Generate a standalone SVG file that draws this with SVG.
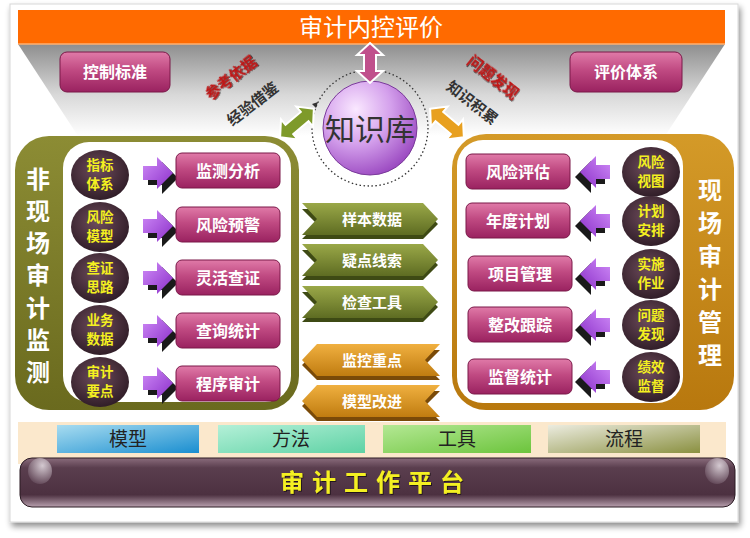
<svg xmlns="http://www.w3.org/2000/svg" width="750" height="538" viewBox="0 0 750 538">
<defs>
<linearGradient id="gTrap" x1="0" y1="0" x2="0" y2="1"><stop offset="0" stop-color="#8e8e8e"/><stop offset="0.55" stop-color="#d8d8d8"/><stop offset="1" stop-color="#ffffff"/></linearGradient>
<linearGradient id="gPink" x1="0" y1="0" x2="0" y2="1"><stop offset="0" stop-color="#e07aa8"/><stop offset="0.45" stop-color="#c04a82"/><stop offset="1" stop-color="#9a2260"/></linearGradient>
<radialGradient id="gDark" cx="0.45" cy="0.4" r="0.65"><stop offset="0" stop-color="#6e4c5c"/><stop offset="1" stop-color="#2c1a24"/></radialGradient>
<linearGradient id="gOlive" x1="0" y1="0" x2="0" y2="1"><stop offset="0" stop-color="#8c8c34"/><stop offset="1" stop-color="#6a6a1e"/></linearGradient>
<linearGradient id="gGold" x1="0" y1="0" x2="0" y2="1"><stop offset="0" stop-color="#d49a28"/><stop offset="1" stop-color="#b8780e"/></linearGradient>
<linearGradient id="gPurp" x1="0" y1="0" x2="1" y2="1"><stop offset="0" stop-color="#d08cf8"/><stop offset="1" stop-color="#8a2ec8"/></linearGradient>
<linearGradient id="gGreen" x1="0" y1="0" x2="0" y2="1"><stop offset="0" stop-color="#9aa848"/><stop offset="1" stop-color="#5e6c22"/></linearGradient>
<linearGradient id="gOrange" x1="0" y1="0" x2="0" y2="1"><stop offset="0" stop-color="#f0b040"/><stop offset="1" stop-color="#c07c10"/></linearGradient>
<radialGradient id="gSphere" cx="0.35" cy="0.3" r="0.75"><stop offset="0" stop-color="#fae8ff"/><stop offset="0.5" stop-color="#d4a0ec"/><stop offset="1" stop-color="#9a48c0"/></radialGradient>
<linearGradient id="gBlue" x1="0" y1="0" x2="1" y2="1"><stop offset="0" stop-color="#a8dcf0"/><stop offset="1" stop-color="#1a8ed0"/></linearGradient>
<linearGradient id="gTeal" x1="0" y1="0" x2="1" y2="1"><stop offset="0" stop-color="#b4f0d8"/><stop offset="1" stop-color="#5ed2a4"/></linearGradient>
<linearGradient id="gLime" x1="0" y1="0" x2="1" y2="1"><stop offset="0" stop-color="#b4e894"/><stop offset="1" stop-color="#6cc43c"/></linearGradient>
<linearGradient id="gFlow" x1="0" y1="0" x2="1" y2="1"><stop offset="0" stop-color="#ecece0"/><stop offset="1" stop-color="#8a9040"/></linearGradient>
<linearGradient id="gPlat" x1="0" y1="0" x2="0" y2="1"><stop offset="0" stop-color="#8a6c7c"/><stop offset="0.2" stop-color="#5a3e4e"/><stop offset="0.75" stop-color="#4c3040"/><stop offset="1" stop-color="#b8a0ae"/></linearGradient>
<radialGradient id="gBubble" cx="0.6" cy="0.3" r="0.7"><stop offset="0" stop-color="#e8e0e6"/><stop offset="1" stop-color="#6a5060"/></radialGradient>
<filter id="shadow" x="-5%" y="-5%" width="110%" height="115%"><feGaussianBlur in="SourceAlpha" stdDeviation="3"/><feOffset dx="2" dy="4"/><feComponentTransfer><feFuncA type="linear" slope="0.45"/></feComponentTransfer><feMerge><feMergeNode/><feMergeNode in="SourceGraphic"/></feMerge></filter>
<filter id="ts" x="-10%" y="-10%" width="130%" height="130%"><feDropShadow dx="1" dy="1" stdDeviation="0.6" flood-color="#000" flood-opacity="0.6"/></filter>
<g id="arrR"><path d="M0,-7 H14 V-16 L30,0 L14,16 V7 H0 Z" fill="#1a1a1a" transform="translate(5,5)"/><path d="M0,-7 H14 V-16 L30,0 L14,16 V7 H0 Z" fill="url(#gPurp)"/></g>
</defs>
<style>
text{font-family:"Noto Sans CJK SC","Noto Sans",sans-serif;text-anchor:middle}
.btn{fill:url(#gPink);stroke:#7a1848;stroke-width:1}
.bt{fill:#fff;font-size:16px;font-weight:bold}
.dk{fill:url(#gDark)}
.yt{fill:#f4f020;font-size:13.5px;font-weight:bold}
.vt{fill:#fff;font-size:24px;font-weight:bold}
.ct{fill:#fff;font-size:15px;font-weight:bold}
.bx{font-size:19px;fill:#222}
</style>

<!-- main panel -->
<rect x="10" y="4" width="728" height="518" fill="#fff" stroke="#d8d8d8" filter="url(#shadow)"/>

<!-- top band -->
<g id="top">
<path d="M18,44 H725 L665,136 H78 Z" fill="url(#gTrap)"/>
<rect x="18" y="10" width="707" height="34" fill="#ff6a00"/>
<line x1="18" y1="44" x2="725" y2="44" stroke="#ffb070" stroke-width="1.5"/>
<text x="371" y="36" fill="#fff" font-size="24">审计内控评价</text>
</g>

<g id="kzbz"><rect class="btn" x="60" y="52" width="110" height="40" rx="7"/><text class="bt" x="115" y="78">控制标准</text></g>
<g id="pjtx"><rect class="btn" x="570" y="52" width="112" height="40" rx="7"/><text class="bt" x="626" y="78">评价体系</text></g>

<g id="labels" font-weight="bold" font-size="15">
<text transform="translate(234,82) rotate(-38)" fill="#c01818" filter="url(#ts)">参考依据</text>
<text transform="translate(256,108) rotate(-38)" fill="#333">经验借鉴</text>
<text transform="translate(490,81) rotate(38)" fill="#c01818" filter="url(#ts)">问题发现</text>
<text transform="translate(469,107) rotate(38)" fill="#333">知识积累</text>
</g>

<!-- knowledge base -->
<g id="zsk">
<circle cx="370" cy="128" r="58" fill="none" stroke="#333" stroke-width="1.3" stroke-dasharray="1.5 2.5"/>
<path d="M318,102 l-6,2 l4,4 z" fill="#333"/>
<circle cx="370" cy="128" r="47" fill="url(#gSphere)" stroke="#7a3a9a" stroke-width="1"/>
<text x="370" y="140" font-size="30" fill="#333">知识库</text>
</g>

<!-- left panel -->
<g id="left">
<rect x="15" y="136" width="284" height="274" rx="34" fill="url(#gOlive)"/>
<rect x="63" y="142" width="228" height="260" rx="26" fill="#fff"/>
<text class="vt" x="38" y="188">非</text>
<text class="vt" x="38" y="220">现</text>
<text class="vt" x="38" y="252">场</text>
<text class="vt" x="38" y="284">审</text>
<text class="vt" x="38" y="317">计</text>
<text class="vt" x="38" y="349">监</text>
<text class="vt" x="38" y="381">测</text>
</g>

<!-- right panel -->
<g id="right">
<rect x="452" y="134" width="282" height="276" rx="34" fill="url(#gGold)"/>
<rect x="457" y="140" width="226" height="263" rx="26" fill="#fff"/>
<text class="vt" x="710" y="199">现</text>
<text class="vt" x="710" y="232">场</text>
<text class="vt" x="710" y="265">审</text>
<text class="vt" x="710" y="298">计</text>
<text class="vt" x="710" y="331">管</text>
<text class="vt" x="710" y="364">理</text>
</g>

<g id="connectors">
<path d="M-20,0 L-8,-13 V-6 H8 V-13 L20,0 L8,13 V6 H-8 V13 Z" fill="#c0508c" stroke="#fff" stroke-width="2" transform="translate(370,63) rotate(90)"/>
<path d="M-22,0 L-10,-13 V-6 H10 V-13 L22,0 L10,13 V6 H-10 V13 Z" fill="#7e9a2a" stroke="#fff" stroke-width="2" transform="translate(297,123) rotate(-40)"/>
<path d="M-22,0 L-10,-13 V-6 H10 V-13 L22,0 L10,13 V6 H-10 V13 Z" fill="#e8a020" stroke="#fff" stroke-width="2" transform="translate(447,123) rotate(40)"/>
<use href="#arrR" transform="translate(143,173)"/>
<use href="#arrR" transform="translate(143,226)"/>
<use href="#arrR" transform="translate(143,278)"/>
<use href="#arrR" transform="translate(143,331)"/>
<use href="#arrR" transform="translate(143,383)"/>
<use href="#arrR" transform="translate(610,172) scale(-1,1)"/>
<use href="#arrR" transform="translate(610,221) scale(-1,1)"/>
<use href="#arrR" transform="translate(610,274) scale(-1,1)"/>
<use href="#arrR" transform="translate(610,325) scale(-1,1)"/>
<use href="#arrR" transform="translate(610,377) scale(-1,1)"/>
</g>

<g id="l1"><ellipse class="dk" cx="100" cy="175" rx="29" ry="25"/><text class="yt" x="100" y="170">指标</text><text class="yt" x="100" y="189">体系</text></g>
<g id="l2"><ellipse class="dk" cx="100" cy="227" rx="29" ry="25"/><text class="yt" x="100" y="222">风险</text><text class="yt" x="100" y="241">模型</text></g>
<g id="l3"><ellipse class="dk" cx="100" cy="278" rx="29" ry="25"/><text class="yt" x="100" y="273">查证</text><text class="yt" x="100" y="292">思路</text></g>
<g id="l4"><ellipse class="dk" cx="100" cy="330" rx="29" ry="25"/><text class="yt" x="100" y="325">业务</text><text class="yt" x="100" y="344">数据</text></g>
<g id="l5"><ellipse class="dk" cx="100" cy="382" rx="29" ry="25"/><text class="yt" x="100" y="377">审计</text><text class="yt" x="100" y="396">要点</text></g>
<g id="lb1"><rect class="btn" x="176" y="153" width="104" height="35" rx="6"/><text class="bt" x="228" y="177">监测分析</text></g>
<g id="lb2"><rect class="btn" x="176" y="207" width="104" height="35" rx="6"/><text class="bt" x="228" y="231">风险预警</text></g>
<g id="lb3"><rect class="btn" x="176" y="260" width="104" height="35" rx="6"/><text class="bt" x="228" y="284">灵活查证</text></g>
<g id="lb4"><rect class="btn" x="176" y="313" width="104" height="35" rx="6"/><text class="bt" x="228" y="337">查询统计</text></g>
<g id="lb5"><rect class="btn" x="176" y="366" width="104" height="35" rx="6"/><text class="bt" x="228" y="390">程序审计</text></g>

<g id="r1"><ellipse class="dk" cx="651" cy="172" rx="29" ry="25"/><text class="yt" x="651" y="167">风险</text><text class="yt" x="651" y="186">视图</text></g>
<g id="r2"><ellipse class="dk" cx="651" cy="221" rx="29" ry="25"/><text class="yt" x="651" y="216">计划</text><text class="yt" x="651" y="235">安排</text></g>
<g id="r3"><ellipse class="dk" cx="651" cy="274" rx="29" ry="25"/><text class="yt" x="651" y="269">实施</text><text class="yt" x="651" y="288">作业</text></g>
<g id="r4"><ellipse class="dk" cx="651" cy="325" rx="29" ry="25"/><text class="yt" x="651" y="320">问题</text><text class="yt" x="651" y="339">发现</text></g>
<g id="r5"><ellipse class="dk" cx="651" cy="377" rx="29" ry="25"/><text class="yt" x="651" y="372">绩效</text><text class="yt" x="651" y="391">监督</text></g>
<g id="rb1"><rect class="btn" x="466" y="154" width="104" height="35" rx="6"/><text class="bt" x="518" y="178">风险评估</text></g>
<g id="rb2"><rect class="btn" x="466" y="203" width="104" height="35" rx="6"/><text class="bt" x="518" y="227">年度计划</text></g>
<g id="rb3"><rect class="btn" x="468" y="256" width="104" height="35" rx="6"/><text class="bt" x="520" y="280">项目管理</text></g>
<g id="rb4"><rect class="btn" x="468" y="307" width="104" height="35" rx="6"/><text class="bt" x="520" y="331">整改跟踪</text></g>
<g id="rb5"><rect class="btn" x="468" y="359" width="104" height="35" rx="6"/><text class="bt" x="520" y="383">监督统计</text></g>

<!-- middle chevrons -->
<g id="m1"><path d="M302,207 H423 L438,222 L423,237 H302 L317,222 Z" fill="#3e4a14" transform="translate(0,2)"/><path d="M302,203 H423 L438,219 L423,235 H302 L317,219 Z" fill="url(#gGreen)"/><text class="ct" x="372" y="225">样本数据</text></g>
<g id="m2"><path d="M302,248 H423 L438,263 L423,278 H302 L317,263 Z" fill="#3e4a14" transform="translate(0,2)"/><path d="M302,244 H423 L438,260 L423,276 H302 L317,260 Z" fill="url(#gGreen)"/><text class="ct" x="372" y="266">疑点线索</text></g>
<g id="m3"><path d="M302,290 H423 L438,305 L423,320 H302 L317,305 Z" fill="#3e4a14" transform="translate(0,2)"/><path d="M302,286 H423 L438,302 L423,318 H302 L317,302 Z" fill="url(#gGreen)"/><text class="ct" x="372" y="308">检查工具</text></g>
<g id="m4"><path d="M440,348 H317 L302,363 L317,378 H440 L425,363 Z" fill="#7a4a08" transform="translate(0,2)"/><path d="M440,344 H317 L302,360 L317,376 H440 L425,360 Z" fill="url(#gOrange)"/><text class="ct" x="372" y="366">监控重点</text></g>
<g id="m5"><path d="M440,389 H317 L302,404 L317,419 H440 L425,404 Z" fill="#7a4a08" transform="translate(0,2)"/><path d="M440,385 H317 L302,401 L317,417 H440 L425,401 Z" fill="url(#gOrange)"/><text class="ct" x="372" y="407">模型改进</text></g>

<!-- bottom -->
<rect x="18" y="422" width="708" height="42" fill="#fbe8cc"/>
<g id="bm"><rect x="57" y="425" width="142" height="28" fill="url(#gBlue)"/><text class="bx" x="128" y="446">模型</text></g>
<g id="bf"><rect x="218" y="425" width="147" height="28" fill="url(#gTeal)"/><text class="bx" x="291" y="446">方法</text></g>
<g id="bg"><rect x="383" y="425" width="148" height="28" fill="url(#gLime)"/><text class="bx" x="457" y="446">工具</text></g>
<g id="bl"><rect x="548" y="425" width="152" height="28" fill="url(#gFlow)"/><text class="bx" x="624" y="446">流程</text></g>

<g id="platform">
<rect x="20" y="458" width="715" height="49" rx="12" fill="url(#gPlat)" stroke="#2a1a22" stroke-width="1"/>
<ellipse cx="40" cy="471" rx="12" ry="13" fill="url(#gBubble)" opacity="0.85"/>
<ellipse cx="717" cy="471" rx="12" ry="13" fill="url(#gBubble)" opacity="0.85"/>
<text x="376" y="491" font-size="24" font-weight="bold" fill="#f4f020" letter-spacing="8" filter="url(#ts)">审计工作平台</text>
</g>
</svg>
